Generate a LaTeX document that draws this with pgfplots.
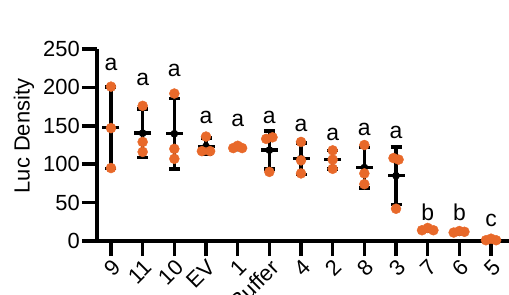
\documentclass[border=0pt]{standalone}
\usepackage{pgfplots}
\pgfplotsset{compat=1.18}
\usepackage{fontspec}
\setmainfont{Liberation Sans}
\definecolor{dotor}{RGB}{232,105,42}
\begin{document}
\begin{tikzpicture}
\path[use as bounding box] (-97bp,-54bp) rectangle (412bp,241bp);
\clip (-97bp,-54bp) rectangle (412bp,241bp);
\begin{axis}[
  scale only axis,
  width=412bp, height=192bp,
  xmin=-0.442, xmax=12.567,
  ymin=0, ymax=250,
  axis x line=bottom, axis y line=left,
  axis line style={-, line width=3.5bp},
  xtick={0,...,12},
  xticklabels={9,11,10,EV,1,Buffer,4,2,8,3,7,6,5},
  ytick={0,50,100,150,200,250},
  tick align=outside,
  major tick length=15bp,
  tick style={line width=3.5bp, black},
  xticklabel style={rotate=45, anchor=north east, inner sep=1.5bp},
  yticklabel style={inner sep=2bp},
  tick label style={font=\fontsize{22}{24}\selectfont},
  /pgf/number format/assume math mode=true,
  ylabel={Luc Density},
  ylabel style={font=\fontsize{22}{24}\selectfont, at={(axis description cs:-0.177,0.547)}, anchor=center, rotate=0},
  clip=false,
]
% error bars (mean +- SD)
\addplot[black, line width=3.5bp, only marks, mark=none,
  error bars/.cd, y dir=both, y explicit,
  error bar style={line width=3.5bp, black},
  error mark options={rotate=90, mark size=5.5bp, line width=3.5bp, black}]
coordinates {
(0,147.67) +- (0,53.0)
(1,140.33) +- (0,31.6)
(2,139.67) +- (0,45.8)
(3,123.33) +- (0,11.0)
(4,121.67) +- (0,2.1)
(5,118.33) +- (0,24.7)
(6,107.33) +- (0,20.6)
(7,106.00) +- (0,12.0)
(8,95.67) +- (0,26.35)
(9,85.00) +- (0,37.3)
(10,15.33) +- (0,1.5)
(11,11.33) +- (0,1.5)
(12,2.00) +- (0,1.0)
};
% mean lines
\addplot[black, only marks, mark=-, mark size=8.5bp, mark options={line width=3.5bp}]
coordinates {
(0,147.67) (1,140.33) (2,139.67) (3,123.33) (4,121.67) (5,118.33) (6,107.33)
(7,106.00) (8,95.67) (9,85.00) (10,15.33) (11,11.33) (12,2.00)
};
% individual points
\addplot[only marks, mark=*, mark size=5bp, color=dotor, mark options={draw=dotor, fill=dotor}]
coordinates {
(0,201) (0,147) (0,95)
(1,176) (1,129) (1,116)
(2,192) (2,120) (2,107)
(3,136) (2.87,117) (3.13,117)
(3.86,121) (4,124) (4.14,121)
(4.9,133) (5.1,135) (5,90)
(6,129) (6,105) (6,88)
(7,118) (7,106) (7,94)
(8,125) (8,88) (8,74)
(8.92,108) (9.08,106) (9,42)
(9.82,14) (10,17) (10.18,14)
(10.82,11) (11,13) (11.16,12)
(11.84,1) (12,3) (12.16,1)
};
% significance letters
\addplot[draw=none, mark=none, nodes near coords, point meta=explicit symbolic,
  nodes near coords style={anchor=center, font=\fontsize{23}{25}\selectfont, inner sep=0pt}]
table[meta=l] {
x y l
0 230.5 a
1 211 a
2 221.6 a
3 160.8 a
4 156.7 a
5 160.8 a
6 150.6 a
7 139.3 a
8 145.8 a
9 141.5 a
10 38 b
11 38 b
12 26.4 c
};
\end{axis}
\end{tikzpicture}
\end{document}
